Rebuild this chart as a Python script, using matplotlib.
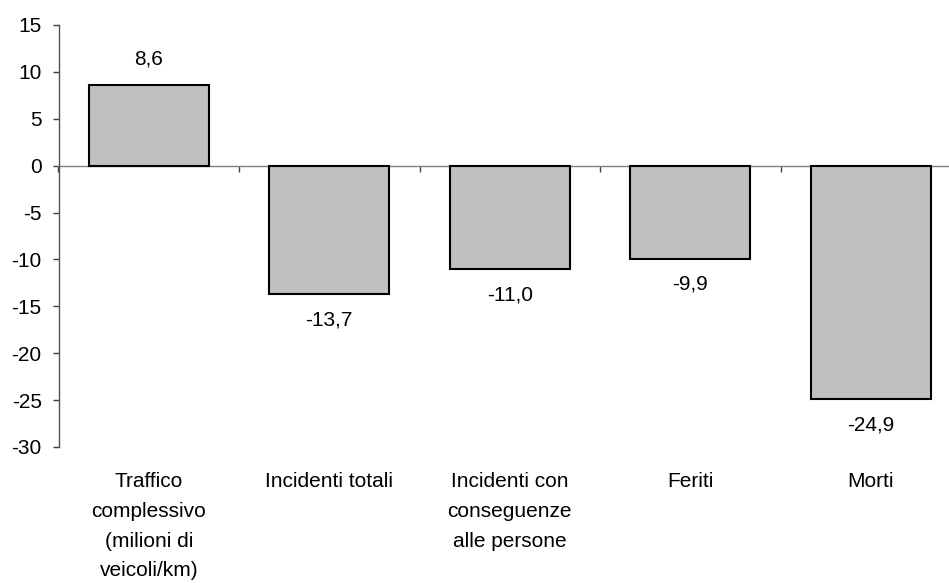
import numpy as np
import matplotlib.pyplot as plt

# Data
categories = ["Traffico\ncomplessivo\n(milioni di\nveicoli/km)",
              "Incidenti totali",
              "Incidenti con\nconseguenze\nalle persone",
              "Feriti",
              "Morti"]
values = [8.6, -13.7, -11.0, -9.9, -24.9]
value_labels = ["8,6", "-13,7", "-11,0", "-9,9", "-24,9"]
yticks = [-30, -25, -20, -15, -10, -5, 0, 5, 10, 15]

plt.rcParams['font.family'] = ['Liberation Sans', 'DejaVu Sans']

W, H = 949, 583
fig = plt.figure(figsize=(W / 100, H / 100), dpi=100)
left, right, top, bottom = 58.5, 961, 25, 447
ax = fig.add_axes([left / W, 1 - bottom / H, (right - left) / W, (bottom - top) / H])

x = np.arange(len(values))
ax.bar(x, values, width=0.665, color='#C0C0C0', edgecolor='black',
       linewidth=1.5, zorder=3)

ax.set_xlim(-0.5, len(values) - 0.5)
ax.set_ylim(-30, 15)
ax.set_yticks(yticks)
ax.set_yticklabels([str(v) for v in yticks], fontsize=15)

# zero line as the x axis, ticks at category boundaries
ax.spines['bottom'].set_position(('data', 0))
ax.spines['bottom'].set_color('#808080')
ax.spines['bottom'].set_linewidth(1)
ax.spines['bottom'].set_zorder(2)
ax.spines['left'].set_color('#505050')
ax.spines['left'].set_linewidth(1)
ax.spines['top'].set_visible(False)
ax.spines['right'].set_visible(False)

ax.set_xticks(np.arange(-0.5, len(values) + 0.5, 1.0))
ax.set_xticklabels([])
ax.tick_params(axis='x', direction='out', length=4.3, width=1, color='#404040')
ax.tick_params(axis='y', direction='out', length=4.6, width=1, color='#404040',
               pad=7.5, labelcolor='black')

# value labels
for xi, v, lab in zip(x, values, value_labels):
    off = 15 if v > 0 else -22.5
    ax.annotate(lab, xy=(xi, v), xytext=(0, off), textcoords='offset points',
                ha='center', va='baseline', fontsize=15)

# category labels below the plot
for xi, lab in zip(x, categories):
    ax.annotate(lab, xy=(xi, 0), xycoords=('data', 'axes fraction'),
                xytext=(0, -18), textcoords='offset points',
                ha='center', va='top', fontsize=15, linespacing=1.72)

fig.savefig('out.png', dpi=100)
